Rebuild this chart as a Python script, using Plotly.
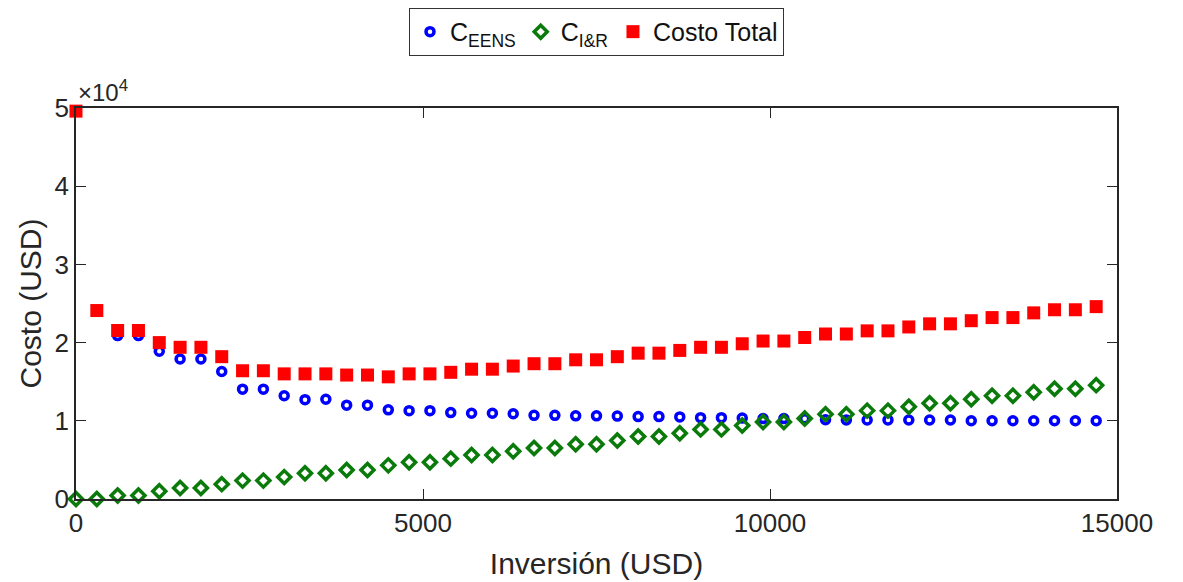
import plotly.graph_objects as go

inversion = [0, 300, 600, 900, 1200, 1500, 1800, 2100, 2400, 2700,
             3000, 3300, 3600, 3900, 4200, 4500, 4800, 5100, 5400, 5700,
             6000, 6300, 6600, 6900, 7200, 7500, 7800, 8100, 8400, 8700,
             9000, 9300, 9600, 9900, 10200, 10500, 10800, 11100, 11400, 11700,
             12000, 12300, 12600, 12900, 13200, 13500, 13800, 14100, 14400, 14700]

c_eens = [49600, 24100, 20900, 20900, 18900, 17900, 17900, 16300, 14050, 14050,
          13200, 12700, 12750, 12000, 12000, 11400, 11300, 11300, 11050, 10970,
          10970, 10900, 10700, 10700, 10630, 10630, 10600, 10540, 10540, 10500,
          10400, 10400, 10350, 10280, 10280, 10250, 10150, 10100, 10100, 10100,
          10100, 10100, 10100, 10000, 10000, 10000, 10000, 10000, 10000, 10000]

c_ir = [0, 0, 450, 450, 1000, 1400, 1400, 1900, 2350, 2350,
        2800, 3300, 3300, 3700, 3700, 4300, 4700, 4700, 5160, 5630,
        5630, 6100, 6530, 6530, 7000, 7000, 7470, 8000, 8000, 8400,
        8900, 8900, 9400, 9850, 9850, 10300, 10850, 10850, 11300, 11300,
        11800, 12250, 12250, 12760, 13200, 13200, 13660, 14100, 14100, 14560]

costo_total = [49600, 24100, 21550, 21550, 20000, 19400, 19400, 18200, 16400, 16400,
               16000, 16000, 16000, 15850, 15850, 15620, 16000, 16000, 16200, 16600,
               16600, 17000, 17300, 17300, 17800, 17800, 18200, 18650, 18650, 19000,
               19400, 19400, 19850, 20200, 20200, 20650, 21100, 21100, 21500, 21500,
               22000, 22400, 22400, 22800, 23200, 23200, 23800, 24200, 24200, 24600]

y_tickvals = [0, 10000, 20000, 30000, 40000, 50000]
y_ticktext = ["0", "1", "2", "3", "4", "5"]
x_tickvals = [0, 5000, 10000, 15000]

FONT = "Liberation Sans, Arial, sans-serif"
AXC = "#262626"

fig = go.Figure()
fig.add_trace(go.Scatter(
    x=inversion, y=c_eens, mode="markers", name="C<sub>EENS</sub>",
    marker=dict(symbol="circle-open", size=8, color="#0000ff",
                line=dict(width=3.5, color="#0000ff")),
))
fig.add_trace(go.Scatter(
    x=inversion, y=c_ir, mode="markers", name="C<sub>I&R</sub>",
    marker=dict(symbol="diamond-open", size=10, color="#0a7a0a",
                line=dict(width=3.5, color="#0a7a0a")),
))
fig.add_trace(go.Scatter(
    x=inversion, y=costo_total, mode="markers", name="Costo Total",
    marker=dict(symbol="square", size=13, color="#ff0000",
                line=dict(width=0)),
))

fig.update_layout(
    width=1175, height=574,
    margin=dict(l=68, r=66, t=100, b=83, autoexpand=False),
    paper_bgcolor="white", plot_bgcolor="white",
    font=dict(family=FONT, size=26, color=AXC),
    legend=dict(
        orientation="h", x=0.5, xanchor="center", y=1.256, yanchor="top",
        bordercolor="#333333", borderwidth=1, bgcolor="white",
        font=dict(family=FONT, size=25, color="#111111"),
        itemwidth=30, tracegroupgap=0,
    ),
    xaxis=dict(
        range=[0, 15000], tickvals=x_tickvals, ticktext=[str(v) for v in x_tickvals],
        ticks="inside", ticklen=10, tickcolor=AXC, tickwidth=1,
        showline=True, linecolor=AXC, linewidth=1.5, mirror="ticks",
        showgrid=False, zeroline=False,
        title=dict(text="Inversión (USD)", font=dict(size=30, color=AXC), standoff=16),
        tickfont=dict(size=26, color=AXC),
    ),
    yaxis=dict(
        range=[0, 50000], tickvals=y_tickvals, ticktext=y_ticktext,
        ticks="inside", ticklen=10, tickcolor=AXC, tickwidth=1,
        showline=True, linecolor=AXC, linewidth=1.5, mirror="ticks",
        showgrid=False, zeroline=False,
        title=dict(text="Costo (USD)", font=dict(size=30, color=AXC), standoff=4),
        tickfont=dict(size=26, color=AXC),
    ),
    annotations=[dict(
        text="×10<sup>4</sup>", xref="paper", yref="paper", x=0.0, y=1.0,
        xanchor="left", yanchor="bottom", showarrow=False, xshift=0, yshift=0,
        font=dict(family=FONT, size=24, color=AXC),
    )],
)

fig.update_traces(cliponaxis=False)

fig.write_html("out.html")
